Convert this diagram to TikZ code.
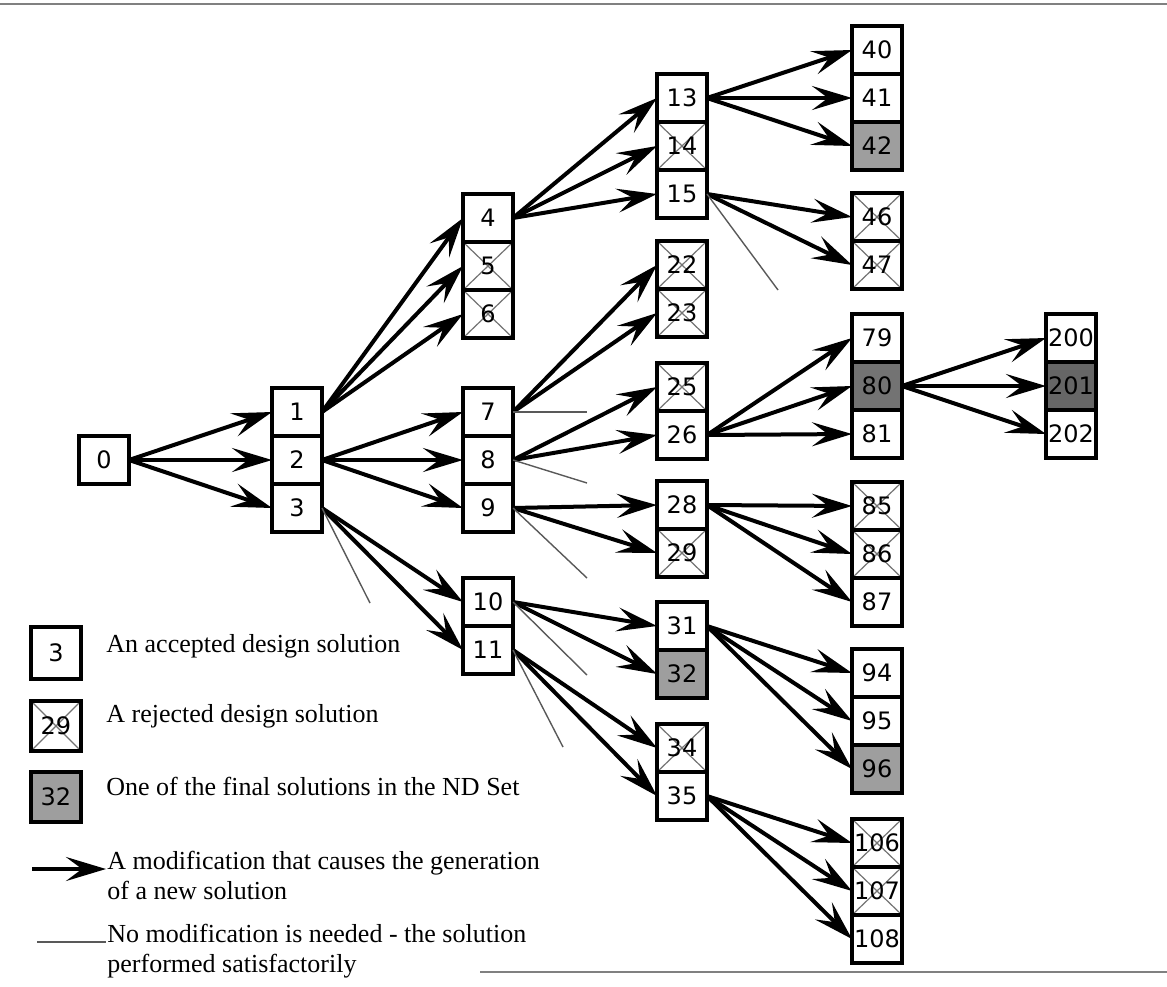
\documentclass[tikz,border=0pt]{standalone}
\usepackage{fontspec}
\setmainfont{Liberation Serif}
\newfontfamily\numfont{DejaVu Sans}
\usetikzlibrary{arrows.meta,positioning}
\tikzset{
  sol/.style={draw, line width=1.6pt, minimum width=25pt, minimum height=24pt,
    inner sep=0pt, outer sep=0pt, fill=white, font=\numfont\fontsize{12}{14}\selectfont},
  rejected/.style={sol, path picture={
    \draw[black!55, line width=0.6pt] (path picture bounding box.south west) -- (path picture bounding box.north east)
      (path picture bounding box.north west) -- (path picture bounding box.south east);}},
  final/.style={sol, fill=black!38},
  keytext/.style={anchor=base west, inner sep=0pt, font=\fontsize{13}{15}\selectfont},
  arrow/.style={-{Stealth[length=20pt, width=12pt, inset=8pt]}, line width=2pt},
  nomod/.style={black!65, line width=0.7pt}
}
\begin{document}
\begin{tikzpicture}[x=0.5pt, y=-0.5pt, node distance=0pt]
  \useasboundingbox (0,0) rectangle (1167,986);
  \draw[black!50, line width=0.8pt] (0,4) -- (1167,4);
  \draw[black!50, line width=0.8pt] (480,972) -- (1167,972);
  % tree of solutions
  \node[sol] (n0) at (104,460) {0};
  \node[sol] (n1) at (297,412) {1};
  \node[sol, below=of n1] (n2) {2};
  \node[sol, below=of n2] (n3) {3};
  \node[sol] (n4) at (488,218) {4};
  \node[rejected, below=of n4] (n5) {5};
  \node[rejected, below=of n5] (n6) {6};
  \node[sol] (n7) at (488,412) {7};
  \node[sol, below=of n7] (n8) {8};
  \node[sol, below=of n8] (n9) {9};
  \node[sol] (n10) at (488,602) {10};
  \node[sol, below=of n10] (n11) {11};
  \node[sol] (n13) at (682,98) {13};
  \node[rejected, below=of n13] (n14) {14};
  \node[sol, below=of n14] (n15) {15};
  \node[rejected] (n22) at (682,265) {22};
  \node[rejected, below=of n22] (n23) {23};
  \node[rejected] (n25) at (682,387) {25};
  \node[sol, below=of n25] (n26) {26};
  \node[sol] (n28) at (682,505) {28};
  \node[rejected, below=of n28] (n29) {29};
  \node[sol] (n31) at (682,626) {31};
  \node[final, below=of n31] (n32) {32};
  \node[rejected] (n34) at (682,748) {34};
  \node[sol, below=of n34] (n35) {35};
  \node[sol] (n40) at (877,50) {40};
  \node[sol, below=of n40] (n41) {41};
  \node[final, below=of n41] (n42) {42};
  \node[rejected] (n46) at (877,217) {46};
  \node[rejected, below=of n46] (n47) {47};
  \node[sol] (n79) at (877,338) {79};
  \node[final, fill=black!55, below=of n79] (n80) {80};
  \node[sol, below=of n80] (n81) {81};
  \node[rejected] (n85) at (877,506) {85};
  \node[rejected, below=of n85] (n86) {86};
  \node[sol, below=of n86] (n87) {87};
  \node[sol] (n94) at (877,673) {94};
  \node[sol, below=of n94] (n95) {95};
  \node[final, below=of n95] (n96) {96};
  \node[rejected] (n106) at (877,843) {106};
  \node[rejected, below=of n106] (n107) {107};
  \node[sol, below=of n107] (n108) {108};
  \node[sol] (n200) at (1071,338) {200};
  \node[final, fill=black!60, below=of n200] (n201) {201};
  \node[sol, below=of n201] (n202) {202};
  % modifications
  \draw[arrow] (n0.east) -- (n1.west);
  \draw[arrow] (n0.east) -- (n2.west);
  \draw[arrow] (n0.east) -- (n3.west);
  \draw[arrow] (n1.east) -- (n4.west);
  \draw[arrow] (n1.east) -- (n5.west);
  \draw[arrow] (n1.east) -- (n6.west);
  \draw[arrow] (n2.east) -- (n7.west);
  \draw[arrow] (n2.east) -- (n8.west);
  \draw[arrow] (n2.east) -- (n9.west);
  \draw[arrow] (n3.east) -- (n10.west);
  \draw[arrow] (n3.east) -- (n11.west);
  \draw[arrow] (n4.east) -- (n13.west);
  \draw[arrow] (n4.east) -- (n14.west);
  \draw[arrow] (n4.east) -- (n15.west);
  \draw[arrow] (n7.east) -- (n22.west);
  \draw[arrow] (n7.east) -- (n23.west);
  \draw[arrow] (n8.east) -- (n25.west);
  \draw[arrow] (n8.east) -- (n26.west);
  \draw[arrow] (n9.east) -- (n28.west);
  \draw[arrow] (n9.east) -- (n29.west);
  \draw[arrow] (n10.east) -- (n31.west);
  \draw[arrow] (n10.east) -- (n32.west);
  \draw[arrow] (n11.east) -- (n34.west);
  \draw[arrow] (n11.east) -- (n35.west);
  \draw[arrow] (n13.east) -- (n40.west);
  \draw[arrow] (n13.east) -- (n41.west);
  \draw[arrow] (n13.east) -- (n42.west);
  \draw[arrow] (n15.east) -- (n46.west);
  \draw[arrow] (n15.east) -- (n47.west);
  \draw[arrow] (n26.east) -- (n79.west);
  \draw[arrow] (n26.east) -- (n80.west);
  \draw[arrow] (n26.east) -- (n81.west);
  \draw[arrow] (n28.east) -- (n85.west);
  \draw[arrow] (n28.east) -- (n86.west);
  \draw[arrow] (n28.east) -- (n87.west);
  \draw[arrow] (n31.east) -- (n94.west);
  \draw[arrow] (n31.east) -- (n95.west);
  \draw[arrow] (n31.east) -- (n96.west);
  \draw[arrow] (n35.east) -- (n106.west);
  \draw[arrow] (n35.east) -- (n107.west);
  \draw[arrow] (n35.east) -- (n108.west);
  \draw[arrow] (n80.east) -- (n200.west);
  \draw[arrow] (n80.east) -- (n201.west);
  \draw[arrow] (n80.east) -- (n202.west);
  % no modification needed
  \coordinate (e3) at (370,603);
  \coordinate (e7) at (587,412);
  \coordinate (e8) at (587,483);
  \coordinate (e9) at (587,578);
  \coordinate (e10) at (587,675);
  \coordinate (e11) at (563,747);
  \coordinate (e15) at (778,290);
  \draw[nomod] (n3.east) -- (e3);
  \draw[nomod] (n7.east) -- (e7);
  \draw[nomod] (n8.east) -- (e8);
  \draw[nomod] (n9.east) -- (e9);
  \draw[nomod] (n10.east) -- (e10);
  \draw[nomod] (n11.east) -- (e11);
  \draw[nomod] (n15.east) -- (e15);
  % key
  \node[sol, minimum height=26pt] (key3) at (56,653) {3};
  \node[rejected, minimum height=25pt] (key29) at (56,726) {29};
  \node[final, minimum height=25pt] (key32) at (56,797) {32};
  \node[keytext] (t3) at (106,652) {An accepted design solution};
  \node[keytext] (t29) at (106,722) {A rejected design solution};
  \node[keytext] (t32) at (106,795) {One of the final solutions in the ND Set};
  \coordinate (ka) at (32,869);
  \coordinate (kb) at (106,869);
  \draw[arrow] (ka) -- (kb);
  \node[keytext, anchor=north west, align=left] (tarrow) at (107,851)
    {A modification that causes the generation\\of a new solution};
  \coordinate (kc) at (37,942);
  \coordinate (kd) at (106,942);
  \draw[nomod] (kc) -- (kd);
  \node[keytext, anchor=north west, align=left] (tnomod) at (107,924)
    {No modification is needed - the solution\\performed satisfactorily};
\end{tikzpicture}
\end{document}
